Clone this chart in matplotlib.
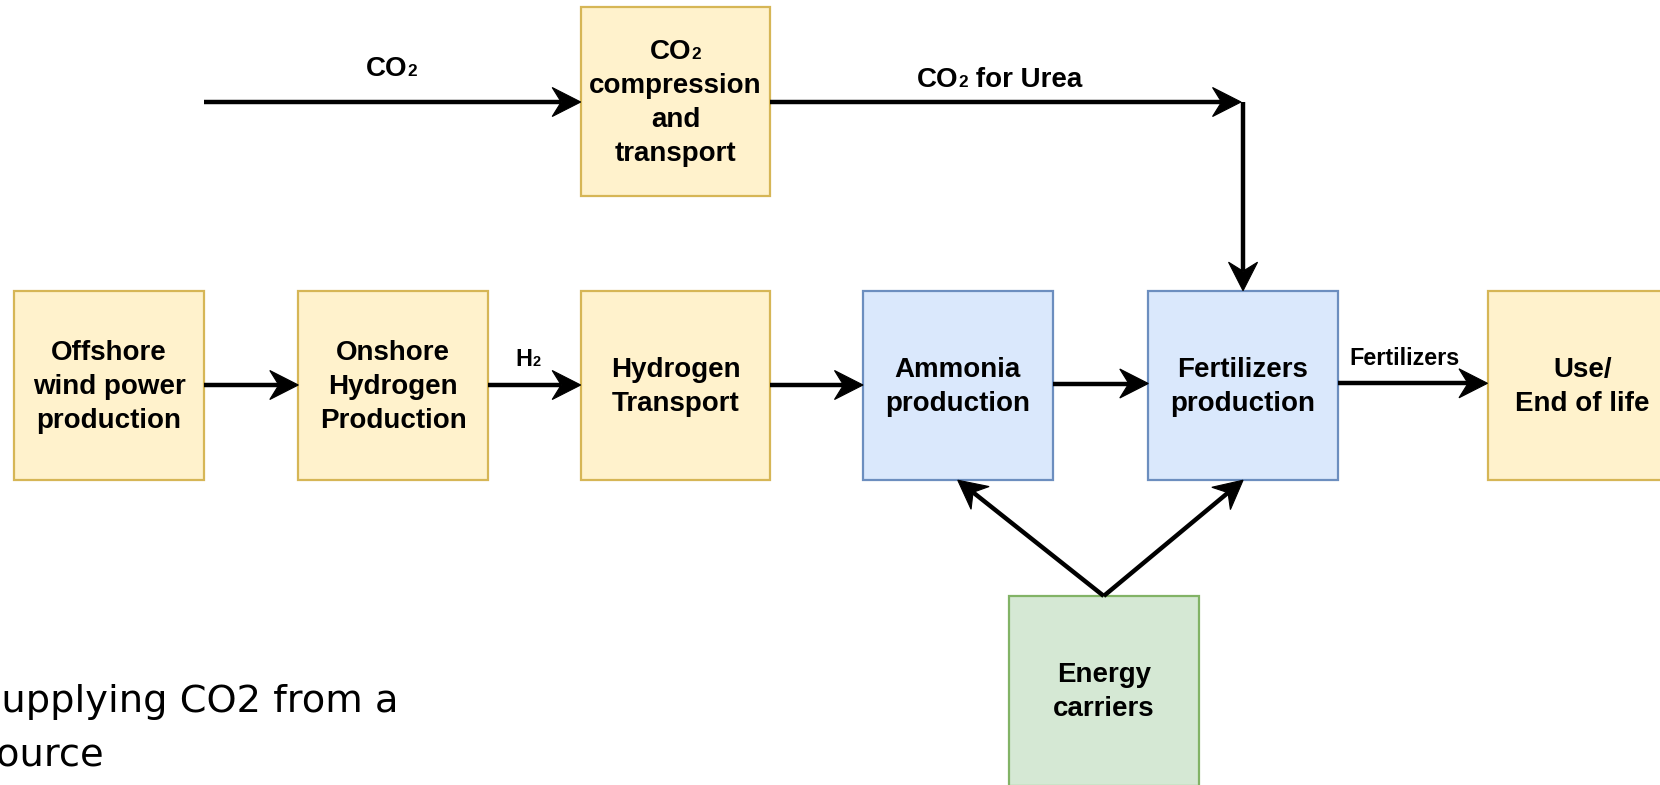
import matplotlib
matplotlib.use("Agg")
import matplotlib.pyplot as plt
from matplotlib.patches import Rectangle, Polygon
import numpy as np

# ---------------- content ----------------
box_labels = [
    "Offshore\nwind power\nproduction",
    "Onshore\nHydrogen\nProduction",
    "Hydrogen\nTransport",
    "Ammonia\nproduction",
    "Fertilizers\nproduction",
    "Use/\nEnd of life",
    "CO\u2082\ncompression\nand\ntransport",
    "Energy\ncarriers",
]
box_groups = ["supply", "supply", "supply", "process", "process", "supply",
              "supply", "energy"]
flow_labels = ["CO\u2082", "CO\u2082 for Urea", "H\u2082", "Fertilizers"]
note_lines = ["Supplying CO2 from a", "source"]

# ---------------- layout (pixel units) ----------------
W, H = 1660, 785
BOX = 189.5
box_left = [14.3, 298.3, 580.7, 863.0, 1148.3, 1487.5, 580.7, 1009.0]
box_top = [290.7, 290.7, 290.7, 290.7, 290.7, 290.7, 6.7, 596.0]

STYLE = {
    "supply": ("#fff2cc", "#d6b656"),
    "process": ("#dae8fc", "#6c8ebf"),
    "energy": ("#d5e8d4", "#82b366"),
}

BOX_FONT = ["Liberation Sans", "DejaVu Sans"]
BOX_PT = 20.0
LABEL_PT = 20.0
SMALL_PT = 16.8
LINE_GAP = 33.8
LW = 3.2

fig = plt.figure(figsize=(W / 100, H / 100), dpi=100)
ax = fig.add_axes([0, 0, 1, 1])
ax.set_xlim(0, W)
ax.set_ylim(H, 0)
ax.axis("off")
renderer = fig.canvas.get_renderer()


def text_width(s, pt, weight="bold", family=BOX_FONT):
    t = ax.text(0, 0, "|" + s + "|", fontsize=pt, fontweight=weight, family=family)
    t2 = ax.text(0, 0, "||", fontsize=pt, fontweight=weight, family=family)
    w = t.get_window_extent(renderer).width - t2.get_window_extent(renderer).width
    t.remove()
    t2.remove()
    return w


def rich_line(xc, yb, line, pt):
    segs = []
    for i, chunk in enumerate(line.split("\u2082")):
        if i > 0:
            segs.append(("2", pt * 0.62))
        if chunk:
            segs.append((chunk, pt))
    widths = [text_width(s, p) for s, p in segs]
    x = xc - sum(widths) / 2
    for (s, p), w in zip(segs, widths):
        ax.text(x, yb, s, fontsize=p, fontweight="bold", family=BOX_FONT,
                ha="left", va="baseline", color="black")
        x += w


def cap_px(pt):
    return 0.716 * pt * 100 / 72


# boxes
for lab, grp, x0, y0 in zip(box_labels, box_groups, box_left, box_top):
    fc, ec = STYLE[grp]
    ax.add_patch(Rectangle((x0, y0), BOX, BOX, facecolor=fc, edgecolor=ec,
                           linewidth=1.6, zorder=1))
    lines = lab.split("\n")
    n = len(lines)
    cx, cy = x0 + BOX / 2, y0 + BOX / 2 - 1.5
    for i, ln in enumerate(lines):
        yc = cy + (i - (n - 1) / 2) * LINE_GAP
        rich_line(cx, yc + cap_px(BOX_PT) / 2, ln, BOX_PT)


def arrow(p0, p1, L=28.5, hw=14.5, notch=9.0):
    p0 = np.asarray(p0, float)
    p1 = np.asarray(p1, float)
    u = (p1 - p0) / np.linalg.norm(p1 - p0)
    nrm = np.array([-u[1], u[0]])
    back = p1 - L * u
    nt = p1 - (L - notch) * u
    ax.plot([p0[0], nt[0]], [p0[1], nt[1]], color="black", lw=LW,
            solid_capstyle="butt", zorder=3)
    ax.add_patch(Polygon([p1, back + hw * nrm, nt, back - hw * nrm],
                         closed=True, facecolor="black", edgecolor="black",
                         linewidth=0.8, zorder=4))


def right(i):
    return box_left[i] + BOX


def midx(i):
    return box_left[i] + BOX / 2


# main chain
row_y = [385.0, 385.0, 385.0, 383.5, 383.3]
for k, (a, b) in enumerate([(0, 1), (1, 2), (2, 3), (3, 4), (4, 5)]):
    arrow((right(a), row_y[k]), (box_left[b], row_y[k]))

# CO2 supply line
top_y = 102.0
arrow((204.3, top_y), (box_left[6], top_y))
corner_x = midx(4)
arrow((right(6), top_y), (corner_x - 2, top_y))
arrow((corner_x, top_y), (corner_x, box_top[4]))

# energy carriers
src = (midx(7), box_top[7])
arrow(src, (midx(3), box_top[3] + BOX))
arrow(src, (midx(4), box_top[4] + BOX))

# flow labels
rich_line(391.5, 66.0 + cap_px(LABEL_PT) / 2, flow_labels[0], LABEL_PT)
rich_line(1000.0, 77.0 + cap_px(LABEL_PT) / 2, flow_labels[1], LABEL_PT)
rich_line(528.0, 357.5 + cap_px(SMALL_PT) / 2, flow_labels[2], SMALL_PT)
rich_line(1404.0, 356.5 + cap_px(SMALL_PT) / 2, flow_labels[3], SMALL_PT)

# note at the bottom-left, clipped by the left edge as in the reference
NOTE_PT = 27.6
s_w = text_width("S", NOTE_PT, weight="normal", family=["DejaVu Sans"])
ax.text(-s_w + 1, 711.7, note_lines[0], fontsize=NOTE_PT, family=["DejaVu Sans"],
        ha="left", va="baseline", color="black")
ax.text(-s_w + 1, 766.7, note_lines[1], fontsize=NOTE_PT, family=["DejaVu Sans"],
        ha="left", va="baseline", color="black")

fig.savefig("out.png", dpi=100, facecolor="white")
